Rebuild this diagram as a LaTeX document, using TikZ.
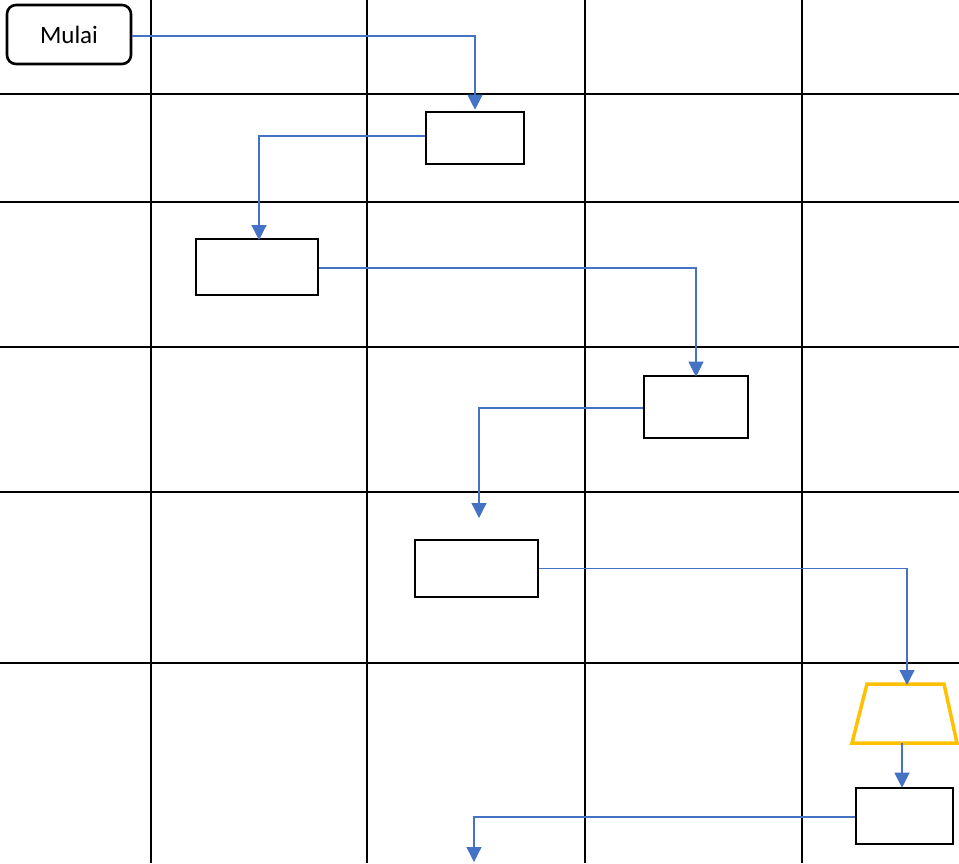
\documentclass[tikz,border=0pt]{standalone}
\usepackage{fontspec}
\setmainfont{Carlito}
\usetikzlibrary{arrows.meta}
\definecolor{flowblue}{HTML}{4472C4}
\definecolor{gold}{HTML}{FFC000}
\tikzset{
  gridline/.style={line width=2pt, black},
  procbox/.style={draw=black, line width=2.6pt, rectangle, inner sep=0pt, fill=white},
  flow/.style={draw=flowblue, line width=1.2pt, -{Triangle[width=15pt,length=15pt]}},
}
\begin{document}
\begin{tikzpicture}[x=1pt, y=-1pt]
\useasboundingbox (0,0) rectangle (959,863);
% grid
\foreach \x in {151,367,585,802} \draw[gridline] (\x,0) -- (\x,863);
\foreach \y in {94,202,347,492,663} \draw[gridline] (0,\y) -- (959,\y);
% nodes
\node[procbox, rounded corners=9pt, minimum width=124pt, minimum height=59pt,
      font=\fontsize{25}{30}\selectfont] (start) at (69,34.5) {Mulai};
\node[procbox, minimum width=98pt, minimum height=52pt] (b2) at (475,138) {};
\node[procbox, minimum width=122pt, minimum height=56pt] (b3) at (257,267) {};
\node[procbox, minimum width=104pt, minimum height=62pt] (b4) at (696,407) {};
\node[procbox, minimum width=123pt, minimum height=57pt] (b5) at (476.5,568.5) {};
\node[procbox, minimum width=97pt, minimum height=56pt] (b7) at (904.5,816) {};
% trapezoid (manual input)
\draw[gold, line width=3.5pt, line join=miter] (867,684) -- (944,684) -- (957,743) -- (852,743) -- cycle;
\coordinate (trtop) at (907,685);
\coordinate (trbot) at (902,743);
\coordinate (t3) at (259,240);
\coordinate (e4) at (479,518);
\coordinate (e7) at (474,862);
% connectors
\draw[flow] ([yshift=-1.5pt]start.east) -| ([yshift=1pt]b2.north);
\draw[flow] ([yshift=2pt]b2.west) -| (t3);
\draw[flow] ([yshift=-1pt]b3.east) -| ([yshift=-2pt]b4.north);
\draw[flow] ([yshift=-1pt]b4.west) -| (e4);
\draw[flow] (b5.east) -| (trtop);
\draw[flow] (trbot) -- ([yshift=-1pt]trbot |- b7.north);
\draw[flow] ([yshift=-1pt]b7.west) -| (e7);
\end{tikzpicture}
\end{document}
